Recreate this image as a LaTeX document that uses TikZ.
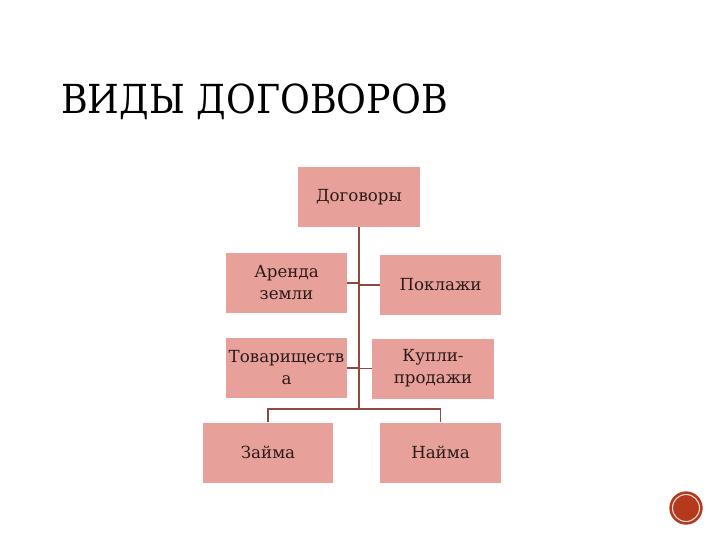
\documentclass[tikz,border=0pt]{standalone}
\usepackage{fontspec}
\setmainfont{DejaVu Serif}
\definecolor{boxfill}{HTML}{E8A19A}
\definecolor{linkcol}{HTML}{8E4A3E}
\definecolor{txtcol}{HTML}{2B1A18}
\definecolor{btnred}{HTML}{B5391B}
\tikzset{
  kind/.style={rectangle,fill=boxfill,minimum width=91pt,minimum height=45pt,
    align=center,text=txtcol,font=\fontsize{12.5}{16.5}\selectfont,inner sep=1pt},
  link/.style={draw=linkcol,line width=1pt}
}
\begin{document}
\begin{tikzpicture}[x=0.75pt,y=-0.75pt]
        \useasboundingbox (0,0) rectangle (720,540);
        % Title
        \node[anchor=west,font=\fontsize{30}{34}\selectfont,inner sep=0pt,xscale=0.91] (title) at (61,102) {ВИДЫ ДОГОВОРОВ};

        % Boxes
        \node[kind] (dog) at (359,197) {Договоры};
        \node[kind] (arenda) at (286.5,283) {Аренда\\земли};
        \node[kind] (poklazh) at (440.5,285) {Поклажи};
        \node[kind] (tovar) at (286.5,368) {Товариществ\\а};
        \node[kind] (kupli) at (433,368.5) {Купли-\\продажи};
        \node[kind,minimum width=97.5pt] (zaim) at (268,452.5) {Займа};
        \node[kind] (naim) at (440.5,452.5) {Найма};

        % Links
        \coordinate (bus) at (dog.south |- 0,409);
        \draw[link] (dog.south) -- (bus);
        \draw[link] (bus) -| (zaim.north);
        \draw[link] (bus) -| (naim.north);
        \draw[link] (arenda.east) -- (arenda.east -| dog.south);
        \draw[link] (poklazh.west) -- (poklazh.west -| dog.south);
        \draw[link] (tovar.east) -- (tovar.east -| dog.south);
        \draw[link] (kupli.west) -- (kupli.west -| dog.south);

        % Button
        \node[circle,fill=btnred,minimum size=25pt,inner sep=0pt] (btn) at (686,508) {};
        \draw[white!85!btnred,line width=0.8pt] (btn.center) circle (13.5);
\end{tikzpicture}
\end{document}
